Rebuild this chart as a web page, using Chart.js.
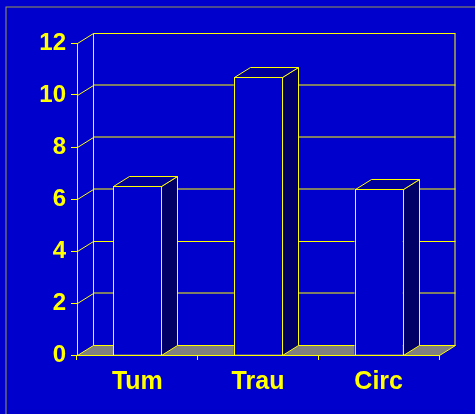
<!DOCTYPE html>
<html>
<head>
<meta charset="utf-8">
<script src="https://cdn.jsdelivr.net/npm/chart.js@4.4.1/dist/chart.umd.min.js"></script>
<style>
  html, body { margin: 0; padding: 0; background: #0000CC; }
  #wrap { width: 475px; height: 414px; }
</style>
</head>
<body>
<div id="wrap"><canvas id="c" width="475" height="414"></canvas></div>
<script>
// Categories and values
const categories = ['Tum', 'Trau', 'Circ'];
const values = [6.5, 10.7, 6.4];
const yTicks = [0, 2, 4, 6, 8, 10, 12];

// Depth of the pseudo-3D box (pixels toward the back wall)
const DX = 16, DY = -10;
const BG = '#0000CC';
const YELLOW = '#FFFF00';
const FLOOR = '#808080';
const TOP_FACE = '#000099';
const SIDE_FACE = '#000066';

function line(ctx, x1, y1, x2, y2, color) {
  ctx.beginPath();
  ctx.strokeStyle = color;
  ctx.lineWidth = 1;
  ctx.moveTo(x1, y1);
  ctx.lineTo(x2, y2);
  ctx.stroke();
}

// Background, frame, back wall, side wall and floor
const wallsPlugin = {
  id: 'walls',
  beforeDraw(chart) {
    const ctx = chart.ctx;
    const a = chart.chartArea;
    const ys = chart.scales.y;
    ctx.save();
    ctx.fillStyle = BG;
    ctx.fillRect(0, 0, chart.width, chart.height);
    // outer frame (soft, straddling pixels)
    ctx.strokeStyle = YELLOW;
    ctx.globalAlpha = 0.6;
    ctx.lineWidth = 1;
    ctx.strokeRect(6, 7, chart.width + 10, chart.height + 10);
    ctx.globalAlpha = 1;

    const L = Math.round(a.left) + 0.5, R = Math.round(a.right) + 0.5;
    const B = Math.round(a.bottom) + 0.5;
    // floor
    ctx.beginPath();
    ctx.moveTo(L, B);
    ctx.lineTo(R, B);
    ctx.lineTo(R + DX, B + DY);
    ctx.lineTo(L + DX, B + DY);
    ctx.closePath();
    ctx.fillStyle = FLOOR;
    ctx.fill();

    // back wall gridlines (soft yellow) and side wall diagonals
    yTicks.forEach(v => {
      const yp = ys.getPixelForValue(v);
      const y = Math.round(yp) + 0.5;
      if (v === 0 || v === 12) {
        line(ctx, L + DX, y + DY, R + DX, y + DY, YELLOW);
      } else {
        const ys2 = (v === 4) ? y : Math.round(yp);
        line(ctx, L + DX, ys2 + DY, R + DX, ys2 + DY, YELLOW);
      }
      line(ctx, L, y, L + DX, y + DY, YELLOW);
    });
    const T = Math.round(ys.getPixelForValue(12)) + 0.5;
    line(ctx, L + DX, T + DY, L + DX, B + DY, YELLOW);
    line(ctx, R + DX - 0.5, T + DY, R + DX - 0.5, B + DY, YELLOW);
    line(ctx, R, B, R + DX, B + DY, YELLOW);
    ctx.restore();
  }
};

// Top and side faces of each bar, plus yellow outlines
const boxPlugin = {
  id: 'box3d',
  afterDatasetsDraw(chart) {
    const ctx = chart.ctx;
    const meta = chart.getDatasetMeta(0);
    ctx.save();
    ctx.lineWidth = 1;
    ctx.strokeStyle = YELLOW;
    meta.data.forEach(bar => {
      const p = bar.getProps(['x', 'y', 'base', 'width'], true);
      const x0 = Math.round(p.x - p.width / 2) + 0.5;
      const x1 = Math.round(p.x + p.width / 2) + 0.5;
      const t = Math.round(p.y) + 0.5;
      const b = Math.round(p.base) + 0.5;
      // side face
      ctx.beginPath();
      ctx.moveTo(x1, t);
      ctx.lineTo(x1 + DX, t + DY);
      ctx.lineTo(x1 + DX, b + DY);
      ctx.lineTo(x1, b);
      ctx.closePath();
      ctx.fillStyle = SIDE_FACE;
      ctx.fill();
      ctx.stroke();
      // top face
      ctx.beginPath();
      ctx.moveTo(x0, t);
      ctx.lineTo(x0 + DX, t + DY);
      ctx.lineTo(x1 + DX, t + DY);
      ctx.lineTo(x1, t);
      ctx.closePath();
      ctx.fillStyle = TOP_FACE;
      ctx.fill();
      ctx.stroke();
      // front outline
      ctx.strokeRect(x0, t, x1 - x0, b - t);
    });
    ctx.restore();
  }
};

const family = '"Liberation Sans", Arial, sans-serif';

new Chart(document.getElementById('c'), {
  type: 'bar',
  data: {
    labels: categories,
    datasets: [{
      data: values,
      backgroundColor: BG,
      borderWidth: 0,
      barPercentage: 0.4,
      categoryPercentage: 1.0
    }]
  },
  options: {
    responsive: false,
    animation: false,
    events: [],
    layout: { padding: { left: 0, right: 36, top: 43, bottom: 0 } },
    plugins: { legend: { display: false }, tooltip: { enabled: false } },
    scales: {
      x: {
        offset: true,
        grid: { offset: true, drawOnChartArea: false, drawTicks: true, tickLength: 5, color: YELLOW },
        border: { display: true, color: YELLOW, width: 1 },
        ticks: { color: YELLOW, font: { family, size: 25, weight: 'bold' }, padding: 7, maxRotation: 0 },
        afterFit(scale) { scale.height = 59; }
      },
      y: {
        min: 0,
        max: 12,
        afterBuildTicks(scale) { scale.ticks = yTicks.map(v => ({ value: v })); },
        grid: { drawOnChartArea: false, drawTicks: true, tickLength: 6, color: YELLOW },
        border: { display: true, color: YELLOW, width: 1 },
        ticks: { color: YELLOW, font: { family, size: 24, weight: 'bold' }, padding: 5 },
        afterFit(scale) { scale.width = 77; }
      }
    }
  },
  plugins: [wallsPlugin, boxPlugin]
});
</script>
</body>
</html>
